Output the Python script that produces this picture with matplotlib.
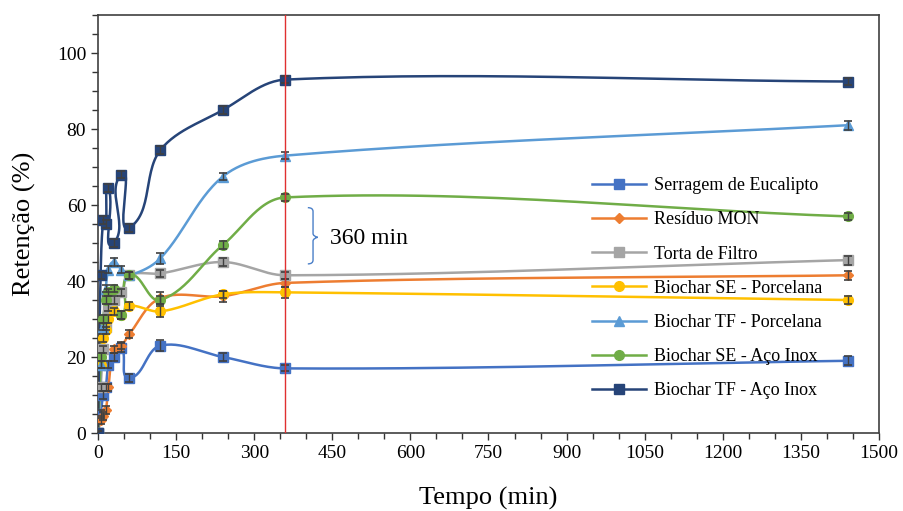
import numpy as np
import matplotlib
matplotlib.use("Agg")
import matplotlib.pyplot as plt
from matplotlib.lines import Line2D
from matplotlib.path import Path
from matplotlib.patches import PathPatch

plt.rcParams['font.family'] = ['Liberation Serif', 'DejaVu Serif']

# tempos de coleta (min)
tempo = [0, 5, 10, 15, 20, 30, 45, 60, 120, 240, 360, 1440]

serragem = [0, 5, 10, 12, 18, 20, 22.5, 14.5, 23, 20, 17, 19]
residuo_mon = [0, 3.5, 4.5, 6, 12, 22, 23, 26, 35.5, 36, 39.5, 41.5]
torta_filtro = [0, 12, 22, 28, 33, 35, 37, 41.5, 42, 45, 41.5, 45.5]
bio_se_porc = [0, 18, 25, 27, 30, 32, 31, 33.5, 32, 36.5, 37, 35]
bio_tf_porc = [0, 18, 28, 38, 43, 45, 43, 41.5, 46, 67.5, 73, 81]
bio_se_inox = [0, 20, 30, 35, 37, 38, 31, 41.5, 35, 49.5, 62, 57]
bio_tf_inox = [0, 41.5, 56, 55, 64.5, 50, 68, 54, 74.5, 85, 93, 92.5]

# desvio padrão
err_serragem = [0.5, 1, 1, 1, 1, 1, 1.2, 1, 1.5, 1, 0.8, 1.2]
err_residuo = [0.5, 1, 1, 1, 1, 1, 1, 1, 1.5, 1.5, 1, 1.2]
err_torta = [0.5, 1, 1, 1, 1, 1, 1, 1, 1, 1, 1, 1.2]
err_se_porc = [0.5, 1, 1, 1, 1, 1, 1, 1, 1.5, 1, 1.5, 1]
err_tf_porc = [0.5, 1, 1, 1, 1, 1, 1, 1, 1.5, 1, 1, 1.2]
err_se_inox = [0.5, 1, 1, 1, 1, 1, 1, 1, 1, 1, 1, 1]
err_tf_inox = [0.5, 1, 1, 1, 1, 1, 1, 1, 1, 1, 1, 1]

series = [
    ("Serragem de Eucalipto", serragem, err_serragem, "#4472C4", "s", 6.5),
    ("Resíduo MON", residuo_mon, err_residuo, "#ED7D31", "D", 5.5),
    ("Torta de Filtro", torta_filtro, err_torta, "#A5A5A5", "s", 6.5),
    ("Biochar SE - Porcelana", bio_se_porc, err_se_porc, "#FFC000", "o", 7),
    ("Biochar TF - Porcelana", bio_tf_porc, err_tf_porc, "#5B9BD5", "^", 7.5),
    ("Biochar SE - Aço Inox", bio_se_inox, err_se_inox, "#70AD47", "o", 7),
    ("Biochar TF - Aço Inox", bio_tf_inox, err_tf_inox, "#264478", "s", 6.5),
]

XMAX, YMAX = 1500, 110


def smooth(x, y, w=781.0, h=418.0, n=30):
    # curva suave (Bezier) com tangentes proporcionais ao tamanho de cada trecho, em pixels
    px = np.asarray(x, float) * w / XMAX
    py = np.asarray(y, float) * h / YMAX
    pts = np.column_stack([px, py])
    m = len(pts)
    tang = np.zeros_like(pts)
    for i in range(m):
        a = pts[max(i - 1, 0)]
        b = pts[min(i + 1, m - 1)]
        d = b - a
        nd = np.hypot(*d)
        tang[i] = d / nd if nd > 0 else 0
    out = [pts[0]]
    for i in range(m - 1):
        p1, p2 = pts[i], pts[i + 1]
        L = np.hypot(*(p2 - p1))
        c1 = p1 + tang[i] * L / 3.0
        c2 = p2 - tang[i + 1] * L / 3.0
        t = np.linspace(0, 1, n)[1:, None]
        seg = ((1 - t) ** 3) * p1 + 3 * ((1 - t) ** 2) * t * c1 + 3 * (1 - t) * t ** 2 * c2 + t ** 3 * p2
        out.extend(seg)
    out = np.array(out)
    return out[:, 0] * XMAX / w, out[:, 1] * YMAX / h


fig = plt.figure(figsize=(9.04, 5.11), dpi=100)
ax = fig.add_axes([98 / 904, 1 - 433 / 511, 781 / 904, 418 / 511])

handles = []
for nome, vals, err, cor, mk, ms in series:
    sx, sy = smooth(tempo, vals)
    ax.plot(sx, sy, color=cor, lw=1.8, zorder=2)
    ax.plot(tempo, vals, ls="none", marker=mk, ms=ms, color=cor, zorder=3)
    ax.errorbar(tempo, vals, yerr=err, fmt="none", ecolor="#404040",
                elinewidth=1, capsize=3, capthick=1.2, zorder=4)
    handles.append(Line2D([], [], color=cor, lw=1.8, marker=mk, ms=ms, label=nome))

ax.axvline(360, color="#E03030", lw=1, zorder=5)

# chave indicando 360 min
bx0, bx1, bx2 = 403, 413, 422
yt, ym, yb = 59.3, 51.5, 44.5
verts = [(bx0, yt), (bx1, yt), (bx1, yt - 1), (bx1, ym + 1),
         (bx1, ym + 0.3), (bx2, ym), (bx2, ym),
         (bx1, ym - 0.3), (bx1, ym - 1), (bx1, yb + 1),
         (bx1, yb), (bx0, yb)]
codes = [Path.MOVETO, Path.CURVE3, Path.CURVE3, Path.LINETO,
         Path.CURVE3, Path.CURVE3, Path.MOVETO,
         Path.CURVE3, Path.CURVE3, Path.LINETO,
         Path.CURVE3, Path.CURVE3]
ax.add_patch(PathPatch(Path(verts, codes), fill=False, ec="#4A7FC8", lw=1))
ax.text(445, 51.2, "360 min", fontsize=17, va="center", ha="left")

ax.set_xlim(0, XMAX)
ax.set_ylim(0, YMAX)
ax.set_xticks(np.arange(0, 1501, 150))
ax.set_xticks(np.arange(0, 1501, 50), minor=True)
ax.set_yticks(np.arange(0, 101, 20))
ax.set_yticks(np.arange(0, 111, 5), minor=True)
ax.tick_params(axis="both", which="major", labelsize=14, length=5, width=1, color="#333333")
ax.tick_params(axis="both", which="minor", length=4, width=1, color="#333333")
for s in ax.spines.values():
    s.set_color("#404040")
    s.set_linewidth(1.2)

ax.set_xlabel("Tempo (min)", fontsize=19, labelpad=18)
ax.set_ylabel("Retenção (%)", fontsize=19, labelpad=15)

ax.legend(handles=handles, loc="upper left", bbox_to_anchor=(585 / 904, 1 - 170 / 511),
          bbox_transform=fig.transFigure, frameon=False, fontsize=13,
          handlelength=3.0, handletextpad=0.4, labelspacing=0.95, borderaxespad=0)

fig.savefig("out.png", dpi=100)
